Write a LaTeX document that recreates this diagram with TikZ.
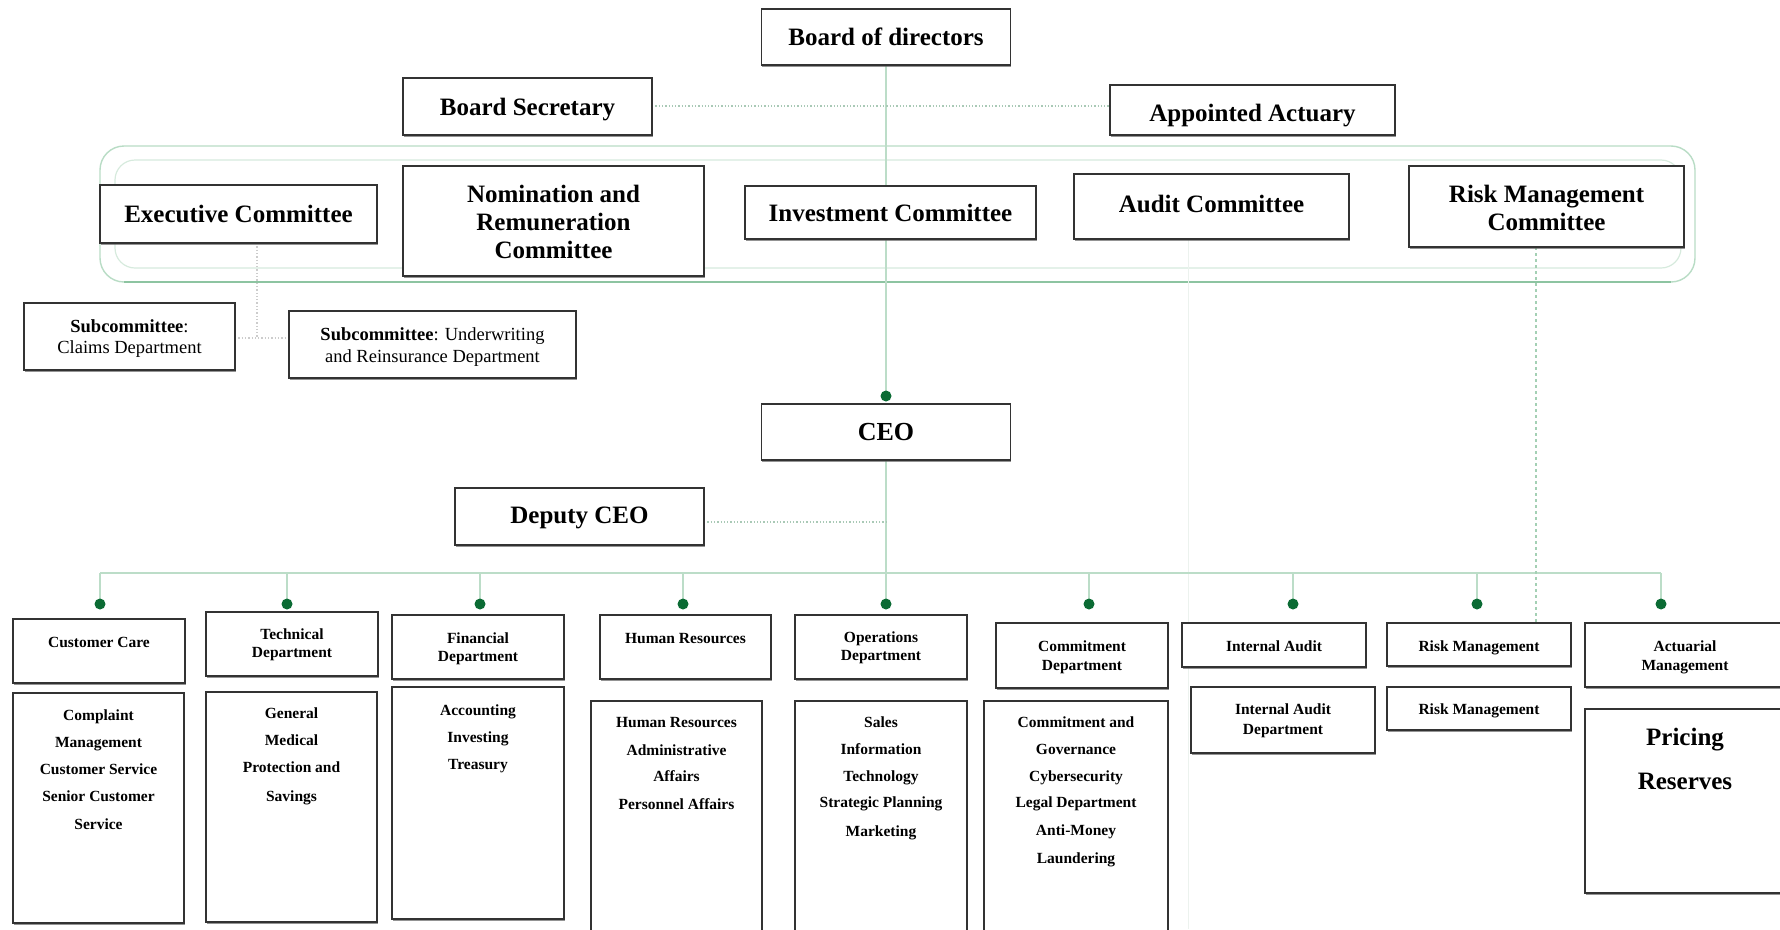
\documentclass[tikz,border=0pt]{standalone}
\usepackage{fontspec}
\setmainfont{Liberation Serif}
\usetikzlibrary{shadows}
\definecolor{lnk}{HTML}{BCDDC8}
\definecolor{dotlnk}{HTML}{A9C9B6}
\definecolor{cont}{HTML}{B8DCC5}
\definecolor{contb}{HTML}{8DC4A1}
\definecolor{conti}{HTML}{D6EADD}
\definecolor{dotg}{HTML}{0B6B34}
\definecolor{boxl}{HTML}{333333}
\definecolor{faint}{HTML}{ECF2EE}
\begin{document}
\begin{tikzpicture}[x=1pt,y=-1pt,
  bx/.style={draw=boxl, line width=1.4pt, fill=white, inner sep=0pt,
    drop shadow={shadow xshift=0.7pt, shadow yshift=-1.5pt, opacity=0.7, fill=black!60}},
  sz/.style 2 args={minimum width=#1pt, minimum height=#2pt},
  big/.style={anchor=base, inner sep=0pt, font=\fontsize{25}{29}\selectfont\bfseries},
  sub/.style={anchor=base, inner sep=0pt, font=\fontsize{18.5}{22}\selectfont},
  sm/.style={anchor=base, inner sep=0pt, font=\fontsize{15.5}{18}\selectfont\bfseries},
  conn/.style={draw=lnk, line width=1.1pt},
  dotline/.style={draw=dotlnk, line width=1.3pt, dotted},
  gdot/.style={fill=dotg}]
\useasboundingbox (0,0) rectangle (1780,929);

% committee frame
\draw[cont, line width=1.4pt, rounded corners=24pt] (100,146) rectangle (1695,282);
\draw[contb, line width=1.6pt] (124,282) -- (1671,282);
\draw[conti, line width=1.2pt, rounded corners=20pt] (115,160) rectangle (1681,268);

% coordinates for connectors
\coordinate (ceodot) at (886,396);
\coordinate (depj) at (886,522);
\coordinate (exj) at (257,338);
\coordinate (fa1) at (1188,239);
\coordinate (fa2) at (1188,929);
\foreach \xx [count=\i] in {100,287,480,683,886,1089,1293,1477,1661}{
  \coordinate (b\i) at (\xx,573);
  \coordinate (d\i) at (\xx,604);
}

% connectors (behind boxes)
\draw[draw=faint, line width=1pt] (fa1) -- (fa2);
\draw[conn] (886,65) -- (ceodot);
\draw[conn] (886,460) -- (d5);
\draw[conn] (b1) -- (b9);
\foreach \i in {1,...,9}{ \draw[conn] (b\i) -- (d\i); }
\draw[dotline] (652,106) -- (1110,106);
\draw[dotline] (704,522) -- (depj);
\draw[dotline, draw=black!20] (257,243) -- (exj);
\draw[dotline, draw=black!20] (235,338) -- (289,338);
\draw[draw=contb!80, line width=1.2pt, dash pattern=on 3pt off 3pt] (1536,247) -- (1536,623);

% top level
\node[bx, sz={249}{56}] (bod) at (886,37) {};
\node[big] (bodt) at (886,45) {Board of directors};
\node[bx, sz={249}{57}] (bsec) at (527.5,106.5) {};
\node[big] (bsect) at (527.5,115) {Board Secretary};
\node[bx, sz={285}{50}] (act) at (1252.5,110) {};
\node[big] (actt) at (1252.5,121) {Appointed Actuary};

% committees
\node[bx, sz={277}{58}] (exec) at (238.5,214) {};
\node[big] (exect) at (238.5,222) {Executive Committee};
\node[bx, sz={301}{110}] (nom) at (553.5,221) {};
\foreach \t/\yy [count=\i] in {Nomination and/202, Remuneration/230, Committee/258}
  \node[big] (nomt\i) at (553.5,\yy) {\t};
\node[bx, sz={291}{53}] (inv) at (890.5,212.5) {};
\node[big] (invt) at (890.5,221) {Investment Committee};
\node[bx, sz={275}{65}] (aud) at (1211.5,206.5) {};
\node[big] (audt) at (1211.5,212) {Audit Committee};
\node[bx, sz={275}{81}] (rc) at (1546.5,206.5) {};
\foreach \t/\yy [count=\i] in {Risk Management/202, Committee/230}
  \node[big] (rct\i) at (1546.5,\yy) {\t};

% subcommittees
\node[bx, sz={211}{67}] (claims) at (129.5,336.5) {};
\node[sub] (cl1) at (129.5,332) {\textbf{Subcommittee}:};
\node[sub] (cl2) at (129.5,353) {Claims Department};
\node[bx, sz={287}{67}] (uw) at (432.5,344.5) {};
\node[sub] (uw1) at (432.5,340) {\textbf{Subcommittee}: Underwriting};
\node[sub] (uw2) at (432.5,362) {and Reinsurance Department};

% CEO
\node[bx, sz={249}{56}] (ceo) at (886,432) {};
\node[big, font=\fontsize{26}{30}\selectfont\bfseries] (ceot) at (886,440) {CEO};
\node[bx, sz={249}{57}] (dep) at (579.5,516.5) {};
\node[big] (dept) at (579.5,523) {Deputy CEO};

% departments: headers
\node[bx, sz={172}{64}] (cch) at (99,651) {};
\node[sm] (ccht) at (99,647) {Customer Care};
\node[bx, sz={172}{64}] (teh) at (292,644) {};
\foreach \t/\yy [count=\i] in {Technical/639, Department/657} \node[sm] (teht\i) at (292,\yy) {\t};
\node[bx, sz={172}{64}] (fih) at (478,647) {};
\foreach \t/\yy [count=\i] in {Financial/643, Department/661} \node[sm] (fiht\i) at (478,\yy) {\t};
\node[bx, sz={171}{64}] (hrh) at (685.5,647) {};
\node[sm] (hrht) at (685.5,643) {Human Resources};
\node[bx, sz={172}{64}] (oph) at (881,647) {};
\foreach \t/\yy [count=\i] in {Operations/642, Department/660} \node[sm] (opht\i) at (881,\yy) {\t};
\node[bx, sz={172}{65}] (coh) at (1082,655.5) {};
\foreach \t/\yy [count=\i] in {Commitment/651, Department/670} \node[sm] (coht\i) at (1082,\yy) {\t};
\node[bx, sz={184}{44}] (iah) at (1274,645) {};
\node[sm] (iaht) at (1274,651) {Internal Audit};
\node[bx, sz={184}{43}] (rmh) at (1479,644.5) {};
\node[sm] (rmht) at (1479,651) {Risk Management};
\node[bx, sz={207}{64}] (ach) at (1688.5,655) {};
\foreach \t/\yy [count=\i] in {Actuarial/651, Management/670} \node[sm] (acht\i) at (1685,\yy) {\t};

% departments: lists
\node[bx, sz={171}{230}] (ccl) at (98.5,808) {};
\foreach \t/\yy [count=\i] in {Complaint/720, Management/747, Customer Service/774, Senior Customer/801, Service/829}
  \node[sm] (cclt\i) at (98.5,\yy) {\t};
\node[bx, sz={171}{230}] (tel) at (291.5,807) {};
\foreach \t/\yy [count=\i] in {General/718, Medical/745, Protection and/772, Savings/801}
  \node[sm] (telt\i) at (291.5,\yy) {\t};
\node[bx, sz={172}{232}] (fil) at (478,803) {};
\foreach \t/\yy [count=\i] in {Accounting/715, Investing/742, Treasury/769}
  \node[sm] (filt\i) at (478,\yy) {\t};
\node[bx, sz={171}{234}] (hrl) at (676.5,818) {};
\foreach \t/\yy [count=\i] in {Human Resources/727, Administrative/755, Affairs/781, Personnel Affairs/809}
  \node[sm] (hrlt\i) at (676.5,\yy) {\t};
\node[bx, sz={172}{234}] (opl) at (881,818) {};
\foreach \t/\yy [count=\i] in {Sales/727, Information/754, Technology/781, Strategic Planning/807, Marketing/836}
  \node[sm] (oplt\i) at (881,\yy) {\t};
\node[bx, sz={184}{234}] (col) at (1076,818) {};
\foreach \t/\yy [count=\i] in {Commitment and/727, Governance/754, Cybersecurity/781, Legal Department/807, Anti-Money/835, Laundering/863}
  \node[sm] (colt\i) at (1076,\yy) {\t};
\node[bx, sz={184}{66}] (ial) at (1283,720) {};
\foreach \t/\yy [count=\i] in {Internal Audit/714, Department/734} \node[sm] (ialt\i) at (1283,\yy) {\t};
\node[bx, sz={184}{43}] (rml) at (1479,708.5) {};
\node[sm] (rmlt) at (1479,714) {Risk Management};
\node[bx, sz={207}{184}] (acl) at (1688.5,801) {};
\foreach \t/\yy [count=\i] in {Pricing/745, Reserves/789} \node[big] (aclt\i) at (1685,\yy) {\t};

% dots
\fill[gdot] (ceodot) circle (5.5);
\foreach \i in {1,...,9}{ \fill[gdot] (d\i) circle (5.5); }
\end{tikzpicture}
\end{document}
